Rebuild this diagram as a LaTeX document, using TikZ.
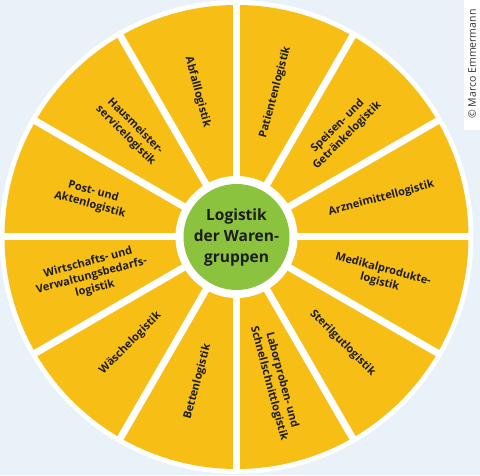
\documentclass[tikz,border=0pt]{standalone}
\usepackage{fontspec}
\setmainfont{Open Sans}
\usetikzlibrary{positioning}
\definecolor{wheelyellow}{RGB}{247,191,22}
\definecolor{hubgreen}{RGB}{139,195,63}
\definecolor{bgblue}{RGB}{233,241,249}
\definecolor{labeltext}{RGB}{28,28,28}
\newcommand\segfont{\bfseries\fontsize{11}{13.5}\selectfont}

\begin{document}
\begin{tikzpicture}[x=1pt, y=1pt,
  seg/.style={font=\segfont, align=center, text=labeltext, inner sep=0pt},
  hub/.style={circle, fill=hubgreen, minimum size=106pt, inner sep=0pt, align=center, text=labeltext, font=\bfseries\fontsize{15.5}{21}\selectfont}]
\useasboundingbox (0,0) rectangle (480,475);
\fill[bgblue] (0,0) rectangle (480,475);
\coordinate (c) at (236.5,238);
\fill[white] (c) circle (237);
\fill[wheelyellow] (c) circle (232);
\foreach \a in {0,30,...,330}
  \draw[white, line width=7pt] (c) -- ++(\a:236);
\fill[white] (c) circle (61);
\node[hub] (centre) at (c) {Logistik\\der Waren-\\gruppen};
% segment labels: angle / rotation / text
\foreach \m/\r/\t [count=\i] in {
  75/75/Patientenlogistik,
  45/45/{Speisen- und\\Getränkelogistik},
  15/15/Arzneimittellogistik,
  -15/-15/{Medikalprodukte-\\logistik},
  -45/-45/Sterilgutlogistik,
  -75/-75/{Laborproben- und\\Schnellschnittlogistik},
  -105/75/Bettenlogistik,
  -135/45/Wäschelogistik,
  -165/15/{Wirtschafts- und\\Verwaltungsbedarfs-\\logistik},
  165/-15/{Post- und\\Aktenlogistik},
  135/-45/{Hausmeister-\\servicelogistik},
  105/-75/Abfalllogistik}
  \node[seg, rotate=\r] (seg\i) at ([shift={(\m:150)}]c) {\t};
\fill[white] (464,345) rectangle (480,475);
\node[rotate=90, inner sep=0pt, text=black!80, font=\fontsize{10.5}{12}\selectfont] (credit) at (472,411) {© Marco Emmermann};
\end{tikzpicture}
\end{document}
